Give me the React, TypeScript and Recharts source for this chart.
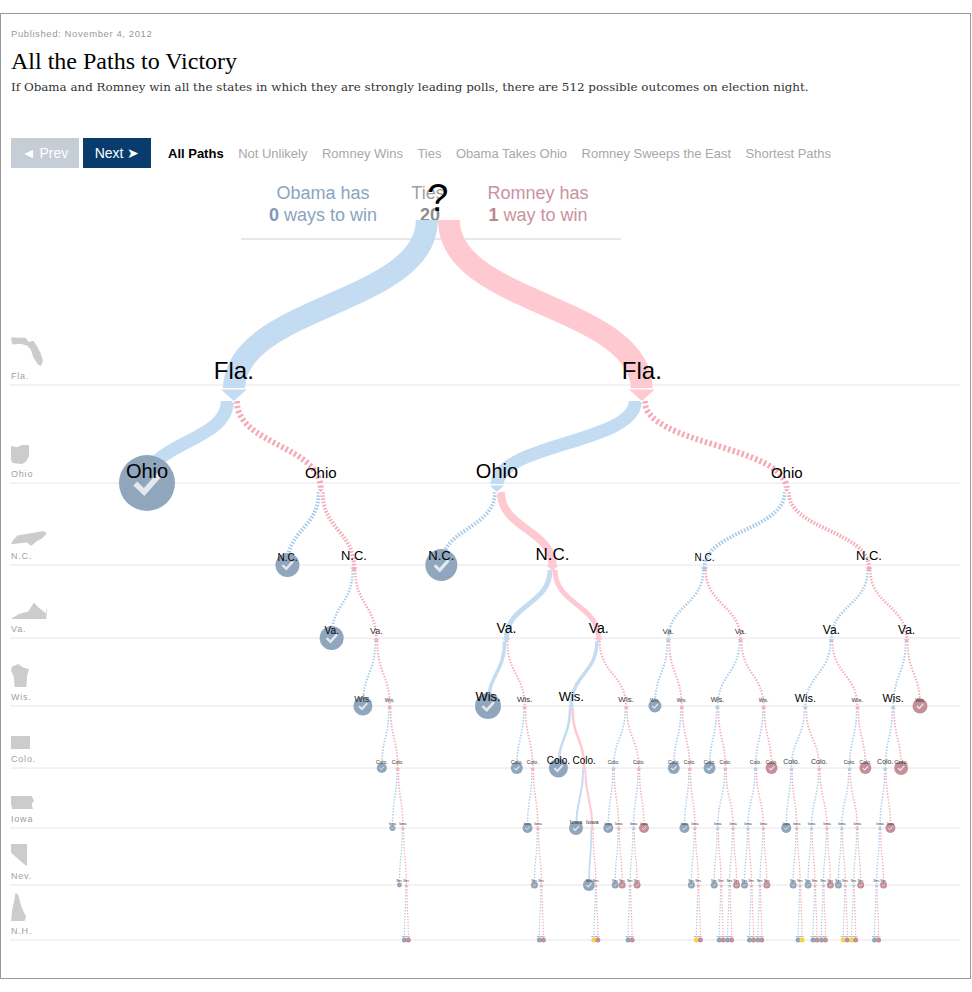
import React from 'react';
import { ComposedChart, Line, Scatter, XAxis, YAxis, ReferenceLine } from 'recharts';

// ---------------------------------------------------------------- data
const STATES = ['Fla.', 'Ohio', 'N.C.', 'Va.', 'Wis.', 'Colo.', 'Iowa', 'Nev.', 'N.H.'];
const ELECTORAL_VOTES = [29, 18, 15, 13, 10, 9, 6, 6, 4];
const OBAMA_SAFE = 237;
const ROMNEY_SAFE = 191;
const VOTES_TO_WIN = 270;

// the scenario drawn with solid lines (O = Obama takes the state, R = Romney)
const SOLID_PATHS = [
  'O', 'R', 'OO', 'RO', 'ROR', 'RORO', 'RORR', 'ROROO', 'RORRO',
  'RORROO', 'RORROR', 'RORRORO', 'RORRORR', 'RORRORRO',
];

const OBAMA_WAYS = 0;
const TIE_WAYS = 20;
const ROMNEY_WAYS = 1;

const NAV_TABS = ['All Paths', 'Not Unlikely', 'Romney Wins', 'Ties', 'Obama Takes Ohio', 'Romney Sweeps the East', 'Shortest Paths'];

// ---------------------------------------------------------------- layout / style
const W = 972;
const H = 992;
const ROOT_Y = 220;
const ROW_Y = [385, 483, 565, 638, 706, 768, 828, 885, 940];
const X_LEFT = 147;
const X_RIGHT = 920;
const SIB_GAP = [0, 100, 175, 67, 45, 27, 16, 10.5, 7, 4];
const COUSIN_GAP = [0, 100, 175, 80, 52, 29, 20, 13, 8, 4.5];
const EXTRA_ROOM: Record<string, number> = {
  ROO: 8, ROR: 37, RORO: 33, RORR: 15, ROROO: 10, RORRO: 12, RORROO: 5, RORROR: 5,
  RORRORO: 3, RORRORR: 3,
};

const LABEL_PX_BY_DEPTH = [38, 24, 15, 10, 8, 5, 5, 3.5, 3, 2.5];
const LABEL_PX: Record<string, number> = {
  OO: 20, RO: 20,
  ORO: 10, ORR: 13, ROO: 13, ROR: 17, RRO: 10, RRR: 13,
  ORRO: 10, ORRR: 9, RORO: 14, RORR: 14, RRRO: 12, RRRR: 12,
  ORRRO: 9, ROROO: 13, ROROR: 8, RORRO: 13, RORRR: 8, RRORO: 7, RRROO: 11, RRROR: 6, RRRRO: 11,
  RORROO: 10, RORROR: 10, RRROOO: 7, RRROOR: 7, RRRROO: 7, RRRROR: 6,
  RORRORO: 6, RORRORR: 6,
};
const CIRCLE_R_BY_DEPTH = [0, 0, 20, 12, 12, 8, 6, 5, 3.5, 2.5];
const CIRCLE_R: Record<string, number> = {
  OO: 28, ROO: 16, ORRRO: 9.5, ORRRRO: 5, ORRRRRO: 3, ORRRRRRO: 2.4,
  ROROO: 13, RORROO: 9.5, RORRORO: 7, RORRORRO: 6, RROOO: 6.5, RRRRR: 7.5, RRRROR: 7,
};
const SOLID_W = [0, 22, 13, 8, 5, 3.5, 2.5, 2, 1.8, 1.5];
const DOT_W = [0, 22, 6, 4, 2.6, 2, 1.7, 1.5, 1.3, 1.2];
const TIP_DROP = [0, 17, 10, 6, 4, 3, 2.5, 2, 2, 2];

const BLUE = '#c3dcf1';
const RED = '#ffc9d1';
const BLUE_DOT = '#a9cbea';
const RED_DOT = '#f6aab7';
const WIN_FILL = { obama: '#8fa6bd', romney: '#c58e99', tie: '#f3d64a' };

const SANS = '"Liberation Sans", Arial, Helvetica, sans-serif';
const SERIF = '"Liberation Serif", "Times New Roman", serif';

// rough silhouettes of the swing states, [width, height, outline in 0..1]
const STATE_ICONS: [number, number, number[][]][] = [
  [32, 30, [[0, 0.05], [0.45, 0.06], [0.56, 0.2], [0.7, 0.16], [0.8, 0.32], [0.92, 0.56], [1, 0.82], [0.94, 1], [0.84, 0.95], [0.7, 0.72], [0.62, 0.45], [0.5, 0.32], [0.3, 0.26], [0.04, 0.28]]],
  [18, 19, [[0, 0.05], [0.35, 0.12], [0.6, 0], [1, 0], [1, 0.6], [0.82, 0.88], [0.6, 1], [0.1, 0.95], [0, 0.8]]],
  [36, 15, [[0.18, 0.3], [0.9, 0], [1, 0.15], [0.86, 0.5], [0.7, 0.7], [0.56, 1], [0.45, 0.76], [0, 0.88], [0.06, 0.6]]],
  [36, 18, [[0, 1], [0.22, 0.72], [0.48, 0.58], [0.64, 0.08], [0.76, 0.36], [0.86, 0.5], [0.96, 0.7], [1, 0.3], [0.98, 1]]],
  [18, 23, [[0.05, 0.12], [0.4, 0], [0.7, 0.16], [1, 0.22], [0.9, 0.5], [0.85, 1], [0.2, 1], [0.15, 0.52], [0, 0.3]]],
  [19, 13, [[0, 0], [1, 0], [1, 1], [0, 1]]],
  [23, 13, [[0, 0], [0.9, 0], [1, 0.35], [0.9, 0.65], [0.95, 1], [0.05, 1], [0, 0.6]]],
  [16, 22, [[0, 0], [1, 0], [1, 1], [0.88, 0.96], [0, 0.4]]],
  [15, 28, [[0.3, 0], [0.48, 0.05], [0.7, 0.5], [1, 0.84], [0.9, 1], [0, 1], [0.08, 0.6], [0.2, 0.3]]],
];

// ---------------------------------------------------------------- tree
interface TreeNode {
  path: string;
  depth: number;
  obama: number;
  romney: number;
  outcome: 'obama' | 'romney' | 'tie' | null;
  children: TreeNode[];
  parent: TreeNode | null;
  dx: number;
  px: number;
}

function grow(path: string, obama: number, romney: number, parent: TreeNode | null): TreeNode {
  const depth = path.length;
  const node: TreeNode = { path, depth, obama, romney, outcome: null, children: [], parent, dx: 0, px: 0 };
  if (obama >= VOTES_TO_WIN) node.outcome = 'obama';
  else if (romney >= VOTES_TO_WIN) node.outcome = 'romney';
  else if (depth === STATES.length) node.outcome = 'tie';
  else {
    const ev = ELECTORAL_VOTES[depth];
    node.children = [grow(path + 'O', obama + ev, romney, node), grow(path + 'R', obama, romney + ev, node)];
  }
  return node;
}

// tidy layout: push the Romney subtree right of the Obama subtree, parent centred
function place(node: TreeNode): { left: number[]; right: number[] } {
  const e = EXTRA_ROOM[node.path] ?? 0;
  if (!node.children.length) return { left: [-e], right: [e] };
  const [a, b] = node.children;
  const ca = place(a);
  const cb = place(b);
  let shift = 0;
  const common = Math.min(ca.left.length, cb.left.length);
  for (let k = 0; k < common; k++) {
    const d = node.depth + 1 + k;
    const gap = k === 0 ? SIB_GAP[d] : COUSIN_GAP[d];
    shift = Math.max(shift, ca.right[k] - cb.left[k] + gap);
  }
  a.dx = -shift / 2;
  b.dx = shift / 2;
  const left = [-e];
  const right = [e];
  const len = Math.max(ca.left.length, cb.left.length);
  for (let k = 0; k < len; k++) {
    left.push(k < ca.left.length ? ca.left[k] - shift / 2 : cb.left[k] + shift / 2);
    right.push(k < cb.right.length ? cb.right[k] + shift / 2 : ca.right[k] - shift / 2);
  }
  return { left, right };
}

const root = grow('', OBAMA_SAFE, ROMNEY_SAFE, null);
place(root);
const allNodes: TreeNode[] = [];
const rawX = new Map<TreeNode, number>();
(function walk(n: TreeNode, x: number) {
  rawX.set(n, x);
  allNodes.push(n);
  n.children.forEach((c) => walk(c, x + c.dx));
})(root, 0);
const xs = allNodes.map((n) => rawX.get(n) as number);
const minX = Math.min(...xs);
const maxX = Math.max(...xs);
allNodes.forEach((n) => {
  n.px = X_LEFT + (((rawX.get(n) as number) - minX) / (maxX - minX)) * (X_RIGHT - X_LEFT);
});

const rowY = (d: number) => (d === 0 ? ROOT_Y : ROW_Y[d - 1]);
const isSolid = (n: TreeNode) => SOLID_PATHS.includes(n.path);
const inWidth = (n: TreeNode) => (isSolid(n) ? SOLID_W : DOT_W)[n.depth];
const side = (n: TreeNode) => n.path[n.path.length - 1];
const inColor = (n: TreeNode) => (side(n) === 'O' ? (isSolid(n) ? BLUE : BLUE_DOT) : isSolid(n) ? RED : RED_DOT);
const tipY = (n: TreeNode) => rowY(n.depth) + TIP_DROP[n.depth];
const arrowW = (n: TreeNode) => inWidth(n) * 1.2 + 3;
const arrowH = (n: TreeNode) => arrowW(n) * 0.45;
const labelPx = (n: TreeNode) => LABEL_PX[n.path] ?? LABEL_PX_BY_DEPTH[n.depth];
const circleR = (n: TreeNode) => CIRCLE_R[n.path] ?? CIRCLE_R_BY_DEPTH[n.depth];

// edges grouped by style, one Line per style, segments split by nulls
type Pt = { x: number; y: number | null };
interface EdgeGroup { key: string; color: string; width: number; solid: boolean; points: Pt[] }
const groupMap = new Map<string, EdgeGroup>();
allNodes.forEach((c) => {
  const p = c.parent;
  if (!p) return;
  const solid = isSolid(c);
  const width = inWidth(c);
  const color = inColor(c);
  const key = `${color}-${width}-${solid}`;
  if (!groupMap.has(key)) groupMap.set(key, { key, color, width, solid, points: [] });
  const sx = p.px + (side(c) === 'O' ? -1 : 1) * (width / 2);
  const sy = p.depth === 0 ? ROOT_Y : tipY(p) - 1;
  const ey = c.outcome ? rowY(c.depth) : tipY(c) - arrowH(c) + 1;
  groupMap.get(key)!.points.push({ x: sx, y: sy }, { x: c.px, y: ey }, { x: c.px, y: null });
});
const edgeGroups = [...groupMap.values()].sort((a, b) => Number(a.solid) - Number(b.solid) || b.width - a.width);

const nodeData = allNodes.map((n) => ({ x: n.px, y: rowY(n.depth), node: n }));
const rowData = STATES.map((s, i) => ({ x: 11, y: ROW_Y[i], state: s, icon: i }));

// vertical "link" curve: leaves and enters every node straight down
const linkCurve = (context: any) => {
  let x0 = 0;
  let y0 = 0;
  let n = 0;
  return {
    areaStart() {},
    areaEnd() {},
    lineStart() { n = 0; },
    lineEnd() {},
    point(x: number, y: number) {
      if (n === 0) context.moveTo(x, y);
      else {
        const ym = (y0 + y) / 2;
        context.bezierCurveTo(x0, ym, x, ym, x, y);
      }
      x0 = x;
      y0 = y;
      n += 1;
    },
  };
};

const dash = (w: number) => `${Math.max(1.4, w * 0.4)} ${Math.max(1.6, w * 0.4)}`;

const NodeMark = (props: any) => {
  const { cx, cy, payload } = props;
  const n: TreeNode = payload.node;
  const fs = labelPx(n);
  if (n.depth === 0) {
    return (
      <text x={cx} y={cy - 9} textAnchor="middle" fontSize={fs} fontFamily={SANS} fill="#000">?</text>
    );
  }
  const label = (
    <text x={cx} y={cy - 3 - fs * 0.12} textAnchor="middle" fontSize={fs} fontFamily={SANS} fill={fs >= 10 ? '#000' : '#333'}>
      {STATES[n.depth - 1]}
    </text>
  );
  if (n.outcome) {
    const r = circleR(n);
    return (
      <g>
        <circle cx={cx} cy={cy} r={r} fill={WIN_FILL[n.outcome]} />
        {r >= 3 && (
          <polyline
            points={`${cx - 0.42 * r},${cy + 0.02 * r} ${cx - 0.1 * r},${cy + 0.32 * r} ${cx + 0.45 * r},${cy - 0.3 * r}`}
            fill="none"
            stroke="#e2e8ee"
            strokeWidth={r * 0.2}
          />
        )}
        {label}
      </g>
    );
  }
  const tip = cy + TIP_DROP[n.depth];
  const aw = arrowW(n);
  const ah = arrowH(n);
  return (
    <g>
      <polygon
        points={`${cx - aw / 2},${tip - ah} ${cx + aw / 2},${tip - ah} ${cx},${tip}`}
        fill={inColor(n)}
        stroke="#fff"
        strokeWidth={n.depth <= 2 ? 1.5 : 0}
      />
      {label}
    </g>
  );
};

const RowMark = (props: any) => {
  const { cx, cy, payload } = props;
  const [w, h, outline] = STATE_ICONS[payload.icon];
  const bottom = cy - 19;
  const pts = outline.map(([u, v]) => `${cx + u * w},${bottom - h + v * h}`).join(' ');
  return (
    <g>
      <polygon points={pts} fill="#cccccc" />
      <text x={cx} y={cy - 6} fontSize={9} fontFamily={SANS} fill="#a0a0a0" letterSpacing={0.8}>
        {payload.state}
      </text>
    </g>
  );
};

const abs = (left: number, top: number, extra: React.CSSProperties = {}): React.CSSProperties => ({
  position: 'absolute', left, top, whiteSpace: 'nowrap', lineHeight: 1, ...extra,
});

export default function App() {
  return (
    <div style={{ position: 'absolute', left: 0, top: 0, width: W, height: H, background: '#fff', fontFamily: SANS, overflow: 'hidden' }}>
      <div style={{ position: 'absolute', left: 0, top: 13, width: 969, height: 964, border: '1px solid #9a9a9a' }} />
      <div style={abs(11, 29, { fontSize: 9.5, color: '#999', letterSpacing: 0.6 })}>Published: November 4, 2012</div>
      <div style={abs(11, 49, { fontSize: 24, fontFamily: SERIF, color: '#000' })}>All the Paths to Victory</div>
      <div style={abs(11, 82, { fontSize: 11.9, fontFamily: '"DejaVu Serif", serif', color: '#333' })}>
        If Obama and Romney win all the states in which they are strongly leading polls, there are 512 possible outcomes on election night.
      </div>

      <div style={abs(11, 138, { width: 68, height: 30, background: '#c5cdd6', color: '#fff', fontSize: 14, display: 'flex', alignItems: 'center', justifyContent: 'center' })}>
        ◄ Prev
      </div>
      <div style={abs(83, 138, { width: 68, height: 30, background: '#073c6d', color: '#fff', fontSize: 14, display: 'flex', alignItems: 'center', justifyContent: 'center' })}>
        Next ➤
      </div>
      <div style={abs(168, 138, { height: 30, display: 'flex', alignItems: 'center', gap: 14.5, fontSize: 13 })}>
        {NAV_TABS.map((t, i) => (
          <span key={t} style={{ color: i === 0 ? '#000' : '#a8a8a8', fontWeight: i === 0 ? 'bold' : 'normal' }}>{t}</span>
        ))}
      </div>

      <div style={abs(243, 184, { width: 160, textAlign: 'center', fontSize: 18, color: '#8aa4c0' })}>Obama has</div>
      <div style={abs(243, 206, { width: 160, textAlign: 'center', fontSize: 18, color: '#8aa4c0' })}>
        <b style={{ color: '#7f9ab8' }}>{OBAMA_WAYS}</b> ways to win
      </div>
      <div style={abs(388, 184, { width: 80, textAlign: 'center', fontSize: 18, color: '#a0a0a0' })}>Ties</div>
      <div style={abs(390, 206, { width: 80, textAlign: 'center', fontSize: 18, color: '#8c8c8c', fontWeight: 'bold' })}>{TIE_WAYS}</div>
      <div style={abs(458, 184, { width: 160, textAlign: 'center', fontSize: 18, color: '#c9939d' })}>Romney has</div>
      <div style={abs(458, 206, { width: 160, textAlign: 'center', fontSize: 18, color: '#c9939d' })}>
        <b style={{ color: '#bf8591' }}>{ROMNEY_WAYS}</b> way to win
      </div>

      <div style={{ position: 'absolute', left: 0, top: 0 }}>
        <ComposedChart width={W} height={H} margin={{ top: 0, right: 0, bottom: 0, left: 0 }}>
          <XAxis type="number" dataKey="x" domain={[0, W]} hide allowDataOverflow />
          <YAxis type="number" dataKey="y" domain={[0, H]} reversed hide allowDataOverflow />
          <ReferenceLine segment={[{ x: 241, y: 239 }, { x: 621, y: 239 }]} stroke="#e8e8e8" strokeWidth={2} ifOverflow="visible" />
          {ROW_Y.map((y) => (
            <ReferenceLine key={y} segment={[{ x: 10, y }, { x: 960, y }]} stroke="#e6e6e6" strokeWidth={1} ifOverflow="visible" />
          ))}
          {edgeGroups.map((g) => (
            <Line
              key={g.key}
              data={g.points}
              dataKey="y"
              type={linkCurve as any}
              stroke={g.color}
              strokeWidth={g.width}
              strokeDasharray={g.solid ? undefined : dash(g.width)}
              dot={false}
              activeDot={false}
              connectNulls={false}
              legendType="none"
              isAnimationActive={false}
            />
          ))}
          <Scatter data={rowData} shape={RowMark} isAnimationActive={false} />
          <Scatter data={nodeData} shape={NodeMark} isAnimationActive={false} />
        </ComposedChart>
      </div>
    </div>
  );
}
